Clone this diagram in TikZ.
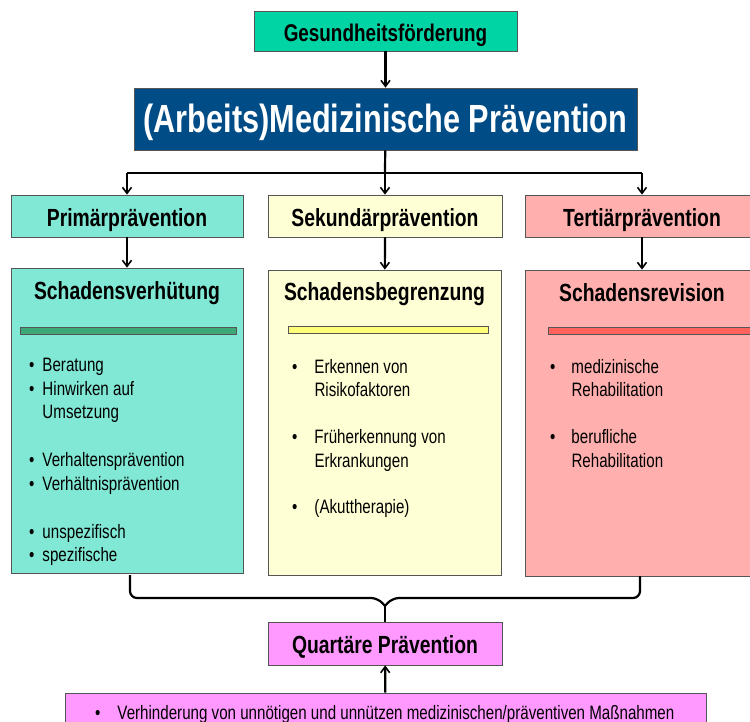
\documentclass[tikz,border=0pt]{standalone}
\usepackage{fontspec}
\setmainfont{Liberation Sans}
\newfontfamily\nar[FakeStretch=0.78]{Liberation Sans}
\usetikzlibrary{arrows.meta}
\definecolor{gfc}{RGB}{0,212,164}
\definecolor{mainc}{RGB}{0,76,134}
\definecolor{pc}{RGB}{128,232,212}
\definecolor{sc}{RGB}{255,255,213}
\definecolor{tc}{RGB}{255,176,174}
\definecolor{qc}{RGB}{255,153,255}
\definecolor{pbar}{RGB}{60,168,120}
\definecolor{sbar}{RGB}{255,255,120}
\definecolor{tbar}{RGB}{255,100,92}
\definecolor{edge}{RGB}{85,85,85}
\tikzset{
  box/.style={draw=edge, line width=0.8pt, inner sep=0pt, text depth=0pt},
  bar/.style={draw=edge, line width=0.6pt},
  conn/.style={line width=2.2pt, -{Straight Barb[length=6pt,width=9pt,line width=1.6pt]}},
  plain/.style={line width=2.2pt},
  body/.style={inner sep=0pt, anchor=base west, font=\nar\fontsize{19.4}{23.5}\selectfont},
  headfont/.style={font=\nar\bfseries\fontsize{24.8}{28}\selectfont},
  titlebox/.style={box, headfont, text height=22pt}
}
\begin{document}
\begin{tikzpicture}[x=1pt,y=-1pt]
\useasboundingbox (0,0) rectangle (750,722);
\clip (0,0) rectangle (750,722);
% top
\node[box, fill=gfc, minimum width=263pt, minimum height=40pt, font=\nar\bfseries\fontsize{24.2}{27}\selectfont, text height=21pt] (gf) at (385.5,31) {Gesundheitsförderung};
\node[box, fill=mainc, text=white, minimum width=503pt, minimum height=62pt, font=\nar\bfseries\fontsize{39.3}{43}\selectfont, text height=28pt] (main) at (385.5,119) {(Arbeits)Medizinische Prävention};
\draw[conn] (gf) -- (main);
% row 1
\node[titlebox, fill=pc, minimum width=232pt, minimum height=42pt] (p1) at (127,216) {Primärprävention};
\node[titlebox, fill=sc, minimum width=234pt, minimum height=42pt] (s1) at (385,216) {Sekundärprävention};
\node[titlebox, fill=tc, minimum width=234pt, minimum height=42pt] (t1) at (642,216) {Tertiärprävention};
\coordinate (split) at (385,173);
\draw[plain] (main) -- (split);
\draw[plain] (p1.north |- split) -- (t1.north |- split);
\draw[conn] (p1.north |- split) -- (p1);
\draw[conn] (split) -- (s1);
\draw[conn] (t1.north |- split) -- (t1);
% row 2
\node[box, fill=pc, minimum width=232pt, minimum height=305pt] (p2) at (127,420.5) {};
\node[box, fill=sc, minimum width=233pt, minimum height=305pt] (s2) at (384.5,422.5) {};
\node[box, fill=tc, minimum width=234pt, minimum height=306pt] (t2) at (642,423) {};
\draw[conn] (p1) -- (p2);
\draw[conn] (s1) -- (s2);
\draw[conn] (t1) -- (t2);
% titles
\node[inner sep=0pt, headfont, anchor=base] (p2t) at (127,300) {Schadensverhütung};
\node[inner sep=0pt, headfont, anchor=base] (s2t) at (384.5,301) {Schadensbegrenzung};
\node[inner sep=0pt, headfont, anchor=base] (t2t) at (642,301.5) {Schadensrevision};
% bars
\draw[bar, fill=pbar] (20,327) rectangle (236,334);
\draw[bar, fill=sbar] (288,326) rectangle (488,333);
\draw[bar, fill=tbar] (548,327) rectangle (760,334);
% bullet texts
\node[body] (p2b) at (29,371.5) {\begin{tabular}[t]{@{}l@{\hspace{8pt}}l@{}}
•& Beratung\\
•& Hinwirken auf\\
 & Umsetzung\\[1pt]
 & \\
•& Verhaltensprävention\\
•& Verhältnisprävention\\[1pt]
 & \\
•& unspezifisch\\
•& spezifische
\end{tabular}};
\node[body] (s2b) at (292,373) {\begin{tabular}[t]{@{}l@{\hspace{17pt}}l@{}}
•& Erkennen von\\
 & Risikofaktoren\\
 & \\
•& Früherkennung von\\
 & Erkrankungen\\
 & \\
•& (Akuttherapie)
\end{tabular}};
\node[body] (t2b) at (550,373) {\begin{tabular}[t]{@{}l@{\hspace{16pt}}l@{}}
•& medizinische\\
 & Rehabilitation\\
 & \\
•& berufliche\\
 & Rehabilitation
\end{tabular}};
% quartaer
\node[box, fill=qc, minimum width=234pt, minimum height=43pt, headfont, text height=19pt] (q) at (385,643.5) {Quartäre Prävention};
\node[box, fill=qc, minimum width=641pt, minimum height=42pt] (bot) at (385.5,714) {};
\node[body] (botb) at (95,719) {\begin{tabular}[t]{@{}l@{\hspace{17pt}}l@{}}
•& Verhinderung von unnötigen und unnützen medizinischen/präventiven Maßnahmen
\end{tabular}};
\draw[conn] (bot) -- (q);
% brace
\coordinate (bl) at (130,575);
\coordinate (br) at (640,576);
\coordinate (tip) at (385,606);
\draw[plain, rounded corners=7pt] (bl) -- (130,598) -- (378,598) -- (tip);
\draw[plain, rounded corners=7pt] (br) -- (640,598) -- (392,598) -- (tip);
\draw[plain] (tip) -- (q);
\end{tikzpicture}
\end{document}
